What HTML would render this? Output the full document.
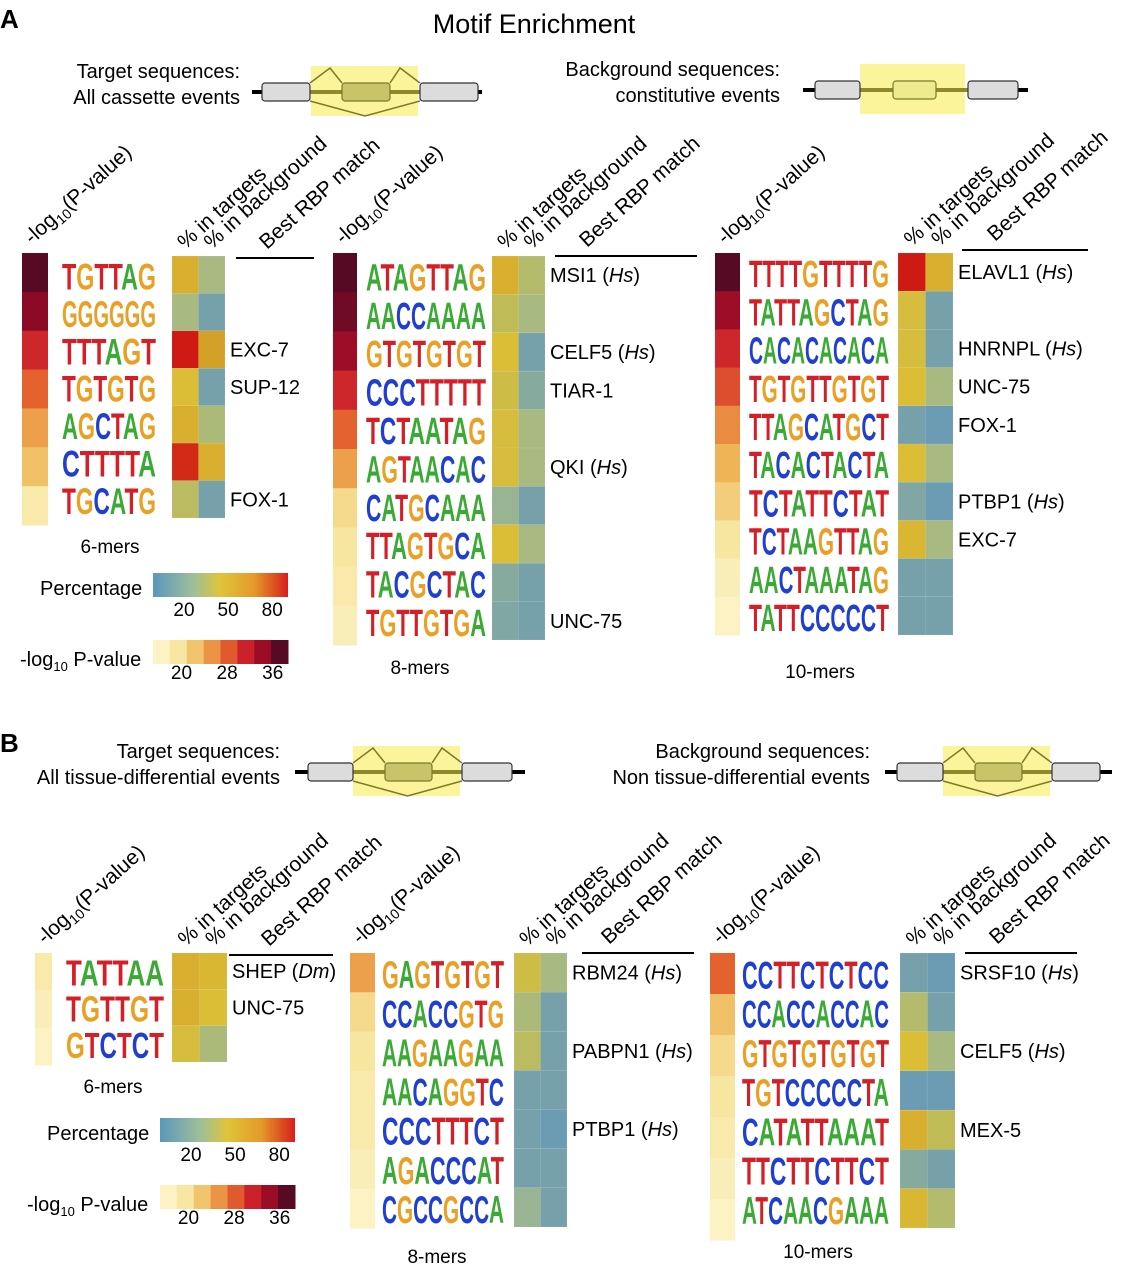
<!DOCTYPE html>
<html><head><meta charset="utf-8"><style>
html,body{margin:0;padding:0;background:#fff;}
svg{display:block;font-family:"Liberation Sans",Arial,sans-serif;}
</style></head><body>
<svg id="fig" width="1126" height="1280" viewBox="0 0 1126 1280">
<defs>
<linearGradient id="pctGrad" x1="0" x2="1" y1="0" y2="0">
<stop offset="0" stop-color="#5b97bd"/><stop offset="0.3" stop-color="#9fbf9a"/><stop offset="0.5" stop-color="#dfc43a"/><stop offset="0.75" stop-color="#e49a2a"/><stop offset="1" stop-color="#d81e1c"/>
</linearGradient>
</defs>
<text x="0" y="28" font-size="26" font-weight="bold">A</text>
<text x="534" y="33" font-size="27" text-anchor="middle">Motif Enrichment</text>
<text x="0" y="752" font-size="26" font-weight="bold">B</text>
<g id="root"></g>
</svg>
<script>
// ---------- data ----------
const aSeq6 = ["TGTTAG","GGGGGG","TTTAGT","TGTGTG","AGCTAG","CTTTTA","TGCATG"];
const aTgt6 = [55,30,80,50,55,78,38];
const aBg6  = [30,15,60,15,32,55,15];
const aPv6  = [36,34,30,27,24,22,18];
const aRbp6 = ["","","EXC-7","SUP-12","","","FOX-1"];

const aSeq8 = ["ATAGTTAG","AACCAAAA","GTGTGTGT","CCCTTTTT","TCTAATAG","AGTAACAC","CATGCAAA","TTAGTGCA","TACGCTAC","TGTTGTGA"];
const aTgt8 = [55,40,50,45,48,48,25,50,20,18];
const aBg8  = [35,30,15,20,30,30,15,30,15,15];
const aPv8  = [36,35,33,30,27,24,20,19,18,17];
const aRbp8 = ["MSI1|Hs","","CELF5|Hs","TIAR-1","","QKI|Hs","","","","UNC-75"];

const aSeq10 = ["TTTTGTTTTG","TATTAGCTAG","CACACACACA","TGTGTTGTGT","TTAGCATGCT","TACACTACTA","TCTATTCTAT","TCTAAGTTAG","AACTAAATAG","TATTCCCCCT"];
const aTgt10 = [80,48,48,50,15,50,18,52,15,15];
const aBg10  = [55,15,15,30,12,30,12,30,15,15];
const aPv10  = [36,33,30,28,25,23,21,19,17,16];
const aRbp10 = ["ELAVL1|Hs","","HNRNPL|Hs","UNC-75","FOX-1","","PTBP1|Hs","EXC-7","",""];

const bSeq6 = ["TATTAA","TGTTGT","GTCTCT"];
const bTgt6 = [55,55,48];
const bBg6  = [52,50,32];
const bPv6  = [18,17,16];
const bRbp6 = ["SHEP|Dm","UNC-75",""];

const bSeq8 = ["GAGTGTGT","CCACCGTG","AAGAAGAA","AACAGGTC","CCCTTTCT","AGACCCAT","CGCCGCCA"];
const bTgt8 = [45,32,38,15,15,15,25];
const bBg8  = [30,15,15,15,12,15,15];
const bPv8  = [24,20,19,18,18,17,16];
const bRbp8 = ["RBM24|Hs","","PABPN1|Hs","","PTBP1|Hs","",""];

const bSeq10 = ["CCTTCTCTCC","CCACCACCAC","GTGTGTGTGT","TGTCCCCCTA","CATATTAAAT","TTCTTCTTCT","ATCAACGAAA"];
const bTgt10 = [15,35,50,12,55,20,52];
const bBg10  = [12,15,30,12,40,15,35];
const bPv10  = [27,22,20,19,18,17,16];
const bRbp10 = ["SRSF10|Hs","","CELF5|Hs","","MEX-5","",""];

const pctTicks = [20,50,80];
const pvTicks = [20,28,36];

// ---------- helpers ----------
const NS="http://www.w3.org/2000/svg";
const root=document.getElementById('root');
function mk(tag,attrs,parent){const e=document.createElementNS(NS,tag);for(const k in attrs)e.setAttribute(k,attrs[k]);(parent||root).appendChild(e);return e;}
function lerp(a,b,t){return a+(b-a)*t;}
function hex(c){return [parseInt(c.slice(1,3),16),parseInt(c.slice(3,5),16),parseInt(c.slice(5,7),16)];}
function ramp(stops,v){
  if(v<=stops[0][0])return stops[0][1];
  for(let i=1;i<stops.length;i++){if(v<=stops[i][0]){const t=(v-stops[i-1][0])/(stops[i][0]-stops[i-1][0]);const a=hex(stops[i-1][1]),b=hex(stops[i][1]);return `rgb(${a.map((x,j)=>Math.round(lerp(x,b[j],t))).join(',')})`;}}
  return stops[stops.length-1][1];
}
const pctStops=[[10,"#6498b8"],[28,"#a3b98a"],[42,"#c4bd50"],[50,"#dcbd36"],[60,"#d4a128"],[70,"#d86a1e"],[80,"#cf1a14"]];
const pvStops=[[15,"#fdf6cf"],[19,"#f7e6a0"],[23,"#efb455"],[27,"#e4622e"],[31,"#c5132a"],[34,"#8a0a26"],[36,"#560a24"]];
function pctColor(v){return ramp(pctStops,v);}
function pvColor(v){return ramp(pvStops,v);}
const letterColor={A:"#3aaa35",C:"#1f3fd0",G:"#eaa024",T:"#d41f26"};

function panel(seq,tgt,bg,pv,rbp,L){
  const n=seq.length;
  const g=mk('g',{});
  
  
  const rh=(L.hy1-L.hy0)/n;
  const ph=(L.py1-L.py0)/n;
  pv.forEach((v,i)=>{
    const r=mk('rect',{x:L.px,y:L.py0+i*ph,width:L.pw,height:ph+0.5,fill:pvColor(v)},g);
    
    
  });
  seq.forEach((s,i)=>{
    const t=mk('text',{x:L.lx,y:L.hy0+(i+1)*rh-4,'font-size':rh*1.0,'font-weight':'bold','textLength':L.lw,'lengthAdjust':'spacingAndGlyphs','font-family':'"Liberation Sans Narrow","Liberation Sans",sans-serif'},g);
    
    
    for(const ch of s){const sp=mk('tspan',{fill:letterColor[ch]},t);sp.textContent=ch;}
  });
  const cw=L.hw/2;
  tgt.forEach((v,i)=>{
    const r=mk('rect',{x:L.hx,y:L.hy0+i*rh,width:cw,height:rh,fill:pctColor(v),stroke:'rgba(255,255,255,0.15)','stroke-width':0.5},g);
    
    
  });
  bg.forEach((v,i)=>{
    const r=mk('rect',{x:L.hx+cw,y:L.hy0+i*rh,width:cw,height:rh,fill:pctColor(v),stroke:'rgba(255,255,255,0.15)','stroke-width':0.5},g);
    
    
  });
  rbp.forEach((lab,i)=>{
    if(!lab)return;
    const [nm,sp]=lab.split('|');
    const t=mk('text',{x:L.hx+L.hw+5,y:L.hy0+(i+0.5)*rh+7,'font-size':20},g);
    
    
    t.appendChild(document.createTextNode(nm+(sp?' (':'')));
    if(sp){const it=mk('tspan',{'font-style':'italic'},t);it.textContent=sp;t.appendChild(document.createTextNode(')'));}
  });
  const ln=mk('line',{x1:L.lnx0,x2:L.lnx1,y1:L.lny,y2:L.lny,stroke:'#000','stroke-width':2},g);
  
  
  const hdrs=[["-log10(P-value)",L.px+10,L.py0-8],["% in targets",L.hx+cw*0.5,L.hy0-6],["% in background",L.hx+cw*1.5,L.hy0-6],["Best RBP match",L.hx+L.hw+42,L.lny-8]];
  hdrs.forEach(([txt,x,y],k)=>{
    const t=mk('text',{x:x,y:y,'font-size':21,transform:`rotate(-42 ${x} ${y})`},g);
    
    
    if(k===0){t.appendChild(document.createTextNode('-log'));const s=mk('tspan',{'font-size':14,dy:5},t);s.textContent='10';const s2=mk('tspan',{dy:-5},t);s2.textContent='(P-value)';}
    else t.textContent=txt;
  });
  const cap=mk('text',{x:L.capx,y:L.capy,'font-size':19,'text-anchor':'middle'},g);
  
  
  cap.textContent=L.cap;
}

function legend(x0,y0,name){
  const g=mk('g',{});
  
  
  const w=135;
  const t1=mk('text',{x:x0-113,y:y0+22,'font-size':20},g);t1.textContent='Percentage';
  
  
  const r=mk('rect',{x:x0,y:y0,width:w,height:24,fill:'url(#pctGrad)'},g);
  
  
  pctTicks.forEach(v=>{const t=mk('text',{x:x0+31+(v-20)*1.47,y:y0+43,'font-size':19,'text-anchor':'middle'},g);t.textContent=v;
    
    });
  const y1=y0+67;
  const t2=mk('text',{x:x0-133,y:y1+26,'font-size':20},g);
  
  
  t2.appendChild(document.createTextNode('-log'));const s=mk('tspan',{'font-size':13,dy:5},t2);s.textContent='10';const s2=mk('tspan',{dy:-5},t2);s2.textContent=' P-value';
  const steps=8;
  for(let i=0;i<steps;i++){const v=16+i*(36-16)/(steps-1);const c=mk('rect',{x:x0+i*w/steps,y:y1,width:w/steps+0.5,height:24,fill:pvColor(v)},g);
    
    }
  pvTicks.forEach(v=>{const t=mk('text',{x:x0+(v-15)*5.7,y:y1+39,'font-size':19,'text-anchor':'middle'},g);t.textContent=v;
    
    });
}

function diagram(x0,x1,y,hx0,hx1,cx0,cx1,gl0,gl1,gr0,gr1,centerFill,arcs,l1,l2,tx,name){
  const g=mk('g',{});
  
  
  mk('rect',{x:hx0,y:y-26,width:hx1-hx0,height:50,fill:'#fbf49a'},g);
  mk('line',{x1:x0,x2:x1,y1:y,y2:y,stroke:'#000','stroke-width':4},g);
  mk('line',{x1:gl1,x2:gr0,y1:y,y2:y,stroke:'#8c8a2a','stroke-width':4},g);
  mk('rect',{x:gl0,y:y-9,width:gl1-gl0,height:18,rx:3,fill:'#dcdcdc',stroke:'#333','stroke-width':1.2},g);
  mk('rect',{x:gr0,y:y-9,width:gr1-gr0,height:18,rx:3,fill:'#dcdcdc',stroke:'#333','stroke-width':1.2},g);
  mk('rect',{x:cx0,y:y-9,width:cx1-cx0,height:18,rx:3,fill:centerFill,stroke:'#7a7a2a','stroke-width':1.2},g);
  if(arcs){
    const p=`M${gl1},${y-9} L${gl1+20},${y-24} L${cx0},${y-9} M${cx1},${y-9} L${gr0-20},${y-24} L${gr0},${y-9} M${gl1},${y+9} L${(gl1+gr0)/2},${y+24} L${gr0},${y+9}`;
    mk('path',{d:p,fill:'none',stroke:'#7a7a2a','stroke-width':1.5},g);
  }
  const a=mk('text',{x:tx,y:y-14,'font-size':20,'text-anchor':'end'},g);a.textContent=l1;
  
  const b=mk('text',{x:tx,y:y+12,'font-size':20,'text-anchor':'end'},g);b.textContent=l2;
  
}

// ---------- panel A ----------
diagram(252,482,92,311,418,342,390,262,310,420,478,'#c9c46a',true,'Target sequences:','All cassette events',240,'target-diagram-a');
diagram(803,1028,90,860,965,893,936,815,860,968,1018,'#eeea8e',false,'Background sequences:','constitutive events',780,'background-diagram-a');

panel(aSeq6,aTgt6,aBg6,aPv6,aRbp6,{name:'a-6mers',px:22,pw:26,py0:253,py1:525,lx:62,lw:94,hx:172,hw:53,hy0:256,hy1:518,lnx0:236,lnx1:314,lny:258,capx:110,capy:553,cap:'6-mers'});
panel(aSeq8,aTgt8,aBg8,aPv8,aRbp8,{name:'a-8mers',px:333,pw:24,py0:253,py1:645,lx:366,lw:120,hx:492,hw:53,hy0:256,hy1:640,lnx0:555,lnx1:697,lny:256,capx:420,capy:674,cap:'8-mers'});
panel(aSeq10,aTgt10,aBg10,aPv10,aRbp10,{name:'a-10mers',px:715,pw:25,py0:253,py1:635,lx:749,lw:140,hx:898,hw:55,hy0:253,hy1:635,lnx0:962,lnx1:1088,lny:250,capx:820,capy:678,cap:'10-mers'});
legend(153,573,'legend-a');

// ---------- panel B ----------
diagram(295,525,772,353,460,385,432,308,353,462,512,'#c9c46a',true,'Target sequences:','All tissue-differential events',280,'target-diagram-b');
diagram(885,1112,772,943,1050,975,1022,897,943,1052,1100,'#c9c46a',true,'Background sequences:','Non tissue-differential events',870,'background-diagram-b');

panel(bSeq6,bTgt6,bBg6,bPv6,bRbp6,{name:'b-6mers',px:35,pw:17,py0:953,py1:1065,lx:66,lw:98,hx:172,hw:55,hy0:953,hy1:1062,lnx0:229,lnx1:333,lny:955,capx:113,capy:1093,cap:'6-mers'});
panel(bSeq8,bTgt8,bBg8,bPv8,bRbp8,{name:'b-8mers',px:350,pw:25,py0:953,py1:1228,lx:382,lw:122,hx:514,hw:53,hy0:953,hy1:1227,lnx0:582,lnx1:694,lny:953,capx:437,capy:1263,cap:'8-mers'});
panel(bSeq10,bTgt10,bBg10,bPv10,bRbp10,{name:'b-10mers',px:710,pw:25,py0:953,py1:1240,lx:742,lw:147,hx:900,hw:55,hy0:953,hy1:1228,lnx0:965,lnx1:1077,lny:953,capx:818,capy:1258,cap:'10-mers'});
legend(160,1118,'legend-b');
</script>
</body></html>
